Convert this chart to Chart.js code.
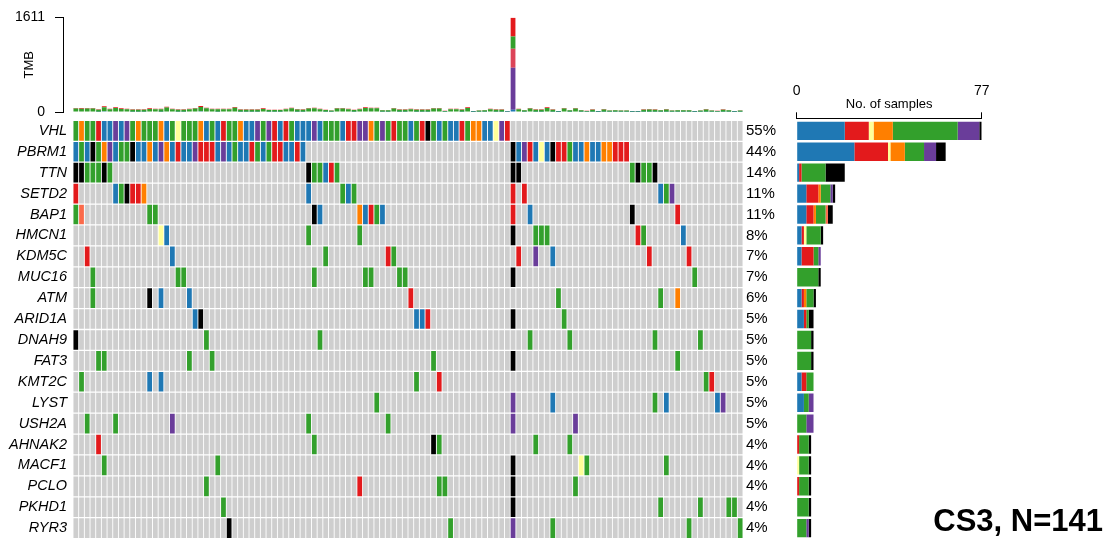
<!DOCTYPE html>
<html>
<head>
<meta charset="utf-8">
<script src="https://cdn.jsdelivr.net/npm/chart.js@4.4.1/dist/chart.umd.min.js"></script>
<style>
  html, body { margin: 0; padding: 0; background: #fff; }
  body { width: 1106px; height: 539px; position: relative; overflow: hidden; }
  canvas { position: absolute; }
  #tmb  { left: 0; top: -10px; }
  #grid { left: 0; top: 95px; }
  #side { left: 760px; top: 60px; }
  #cohort {
    position: absolute; right: 3px; top: 505px;
    font: bold 31px/1 "Liberation Sans", Arial, Helvetica, sans-serif;
    color: #000; white-space: nowrap;
  }
</style>
</head>
<body>
<canvas id="tmb" width="760" height="150"></canvas>
<canvas id="grid" width="790" height="470"></canvas>
<canvas id="side" width="260" height="482"></canvas>
<div id="cohort">CS3, N=141</div>

<script>
const FONT = '"Liberation Sans", Arial, Helvetica, sans-serif';
const totalSamples = 141;

const genes = ['VHL', 'PBRM1', 'TTN', 'SETD2', 'BAP1', 'HMCN1', 'KDM5C', 'MUC16', 'ATM', 'ARID1A',
               'DNAH9', 'FAT3', 'KMT2C', 'LYST', 'USH2A', 'AHNAK2', 'MACF1', 'PCLO', 'PKHD1', 'RYR3'];

// Variant classification codes used in the mutation strings below
const variantCodes  = ['B', 'R', 'Y', 'O', 'G', 'T', 'P', 'K'];
const variantNames  = ['Frame_Shift_Del', 'Nonsense_Mutation', 'In_Frame_Ins', 'Splice_Site',
                       'Missense_Mutation', 'In_Frame_Del', 'Frame_Shift_Ins', 'Multi_Hit'];
const variantColors = ['#1F78B4', '#E31A1C', '#FFFF99', '#FF7F00', '#33A02C', '#FB6A4A', '#6A3D9A', '#000000'];
const cellGrey = '#CECECE';

// One character per sample column ('.' = not mutated); spaces only group columns by ten
const mutVHL    = 'GOGGRBBPBP GOGGGOBGYG GGOBGBRGGO BBPGPRBRGB BBPBGGGBRR PPOGPGRGGB GRKGBGBBRG OOBBYPR... .......... .......... .......... ........';
const mutPBRM1  = 'BGBKGOPBGG KBBOBPOBRB BPRRRBPBGB BRGBGRRBBR B......... .......... .......... .......KBP RBYBKRRGBB OBBOORRR.. .......... ........';
const mutTTN    = 'KKGGGKG... .......... .......... .......... .KGGBRG... .......... .......... .......KK. .......... ........GK GGK....... ........';
const mutSETD2  = 'R......BGK RRO....... .......... .......... .B.....GBG .......... .......... .......R.R .......... .......... ...BGP.... ........';
const mutBAP1   = 'GT........ ...GG..... .......... .......... ..KB...... OBRGB..... .......... .......R.. B......... ........K. ......R... ........';
const mutHMCN1  = '.......... .....YB... .......... .......... .G........ G......... .......... .......K.. .GGG...... .........R G......B.. ........';
const mutKDM5C  = '..R....... .......B.. .......... .......... ....G..... .....RG... .......... ........R. .P..B..... .......... .R......R. ........';
const mutMUC16  = '...G...... ........GG .......... .......... ..G....... .GG....GG. .......... .......K.. .......... .......... .........G ........';
const mutATM    = '...G...... ...K.B.... B......... .......... .......... .........R .......... .......... .....G.... .......... ...G..O... ........';
const mutARID1A = '.......... .......... .BK....... .......... .......... .......... BBR....... .......K.. ......G... .......... .......... ........';
const mutDNAH9  = 'K......... .......... ...G...... .......... ...G...... .......... .......... .......... G......G.. .......... ..G....... G.......';
const mutFAT3   = '....GG.... .......... G...G..... .......... .......... .......... ...G...... .......K.. .......... .......... ......G... ........';
const mutKMT2C  = '.G........ ...B.B.... .......... .......... .......... .......... G...R..... .......... .......... .......... .......... .GR.....';
const mutLYST   = '.......... .......... .......... .......... .......... ...G...... .......... .......P.. ....B..... .......... ..G.B..... ...BP...';
const mutUSH2A  = '..G....G.. .......P.. .......... .......... .G........ .....G.... .......... .......P.. ........P. .......... .......... ........';
const mutAHNAK2 = '....R..... .......... .......... .......... ..G....... .......... ...KG..... .......... .G.....G.. .......... .......... ........';
const mutMACF1  = '.....G.... .......... .....G.... .......... .......... .......... .......... .......K.. .........Y G......... ....G..... ........';
const mutPCLO   = '.......... .......... ...G...... .......... .......... R......... ....GG.... .......K.. ........G. .......... .......... ........';
const mutPKHD1  = '.......... .......... ......G... .......... .......... .......... .......... .......K.. .......... .......... ...G...... G....GG.';
const mutRYR3   = '.......... .......... .......K.. .......... .......... .......... ......G... .......P.. ....G..... .......... ........G. .......G';

// Mutation burden per sample column (stacked by variant class)
const tmbFrameShiftDel = [
  8,7,8,8,5,11,7,9,7,7,   5,6,5,7,7,6,10,7,5,6,   7,8,12,9,7,6,7,7,10,5,   5,6,5,7,5,4,5,7,9,6,
  5,8,9,7,5,3,8,8,7,5,    7,9,9,9,4,4,8,5,6,7,    5,6,5,8,8,3,7,7,5,9,     2,3,4,7,5,6,1,40,7,4,
  8,5,6,9,5,2,8,4,8,4,    3,5,2,6,3,4,3,3,2,2,    5,6,5,4,6,3,4,4,4,2,     3,6,3,3,5,4,2,3];
const tmbMissense = [
  50,50,51,50,34,70,41,58,46,41,  34,33,33,46,41,42,66,41,34,32,  41,50,75,53,41,41,41,41,62,34,
  34,33,33,46,29,29,29,41,53,37,  34,50,53,41,29,21,50,50,41,29,  41,58,53,53,25,24,50,34,33,41,
  34,33,33,50,50,16,41,41,34,58,  12,21,25,41,34,33,8,205,41,25,  50,34,33,58,34,12,50,25,50,24,
  16,34,12,37,21,25,21,22,12,12,  34,37,34,25,37,21,25,24,25,12,  21,37,21,16,34,25,12,21];
const tmbNonsense = [
  11,12,10,11,7,16,9,13,10,9,   7,7,8,10,9,9,15,9,7,8,   9,11,16,12,9,10,9,9,14,7,   7,7,8,10,6,7,6,9,12,8,
  7,11,12,9,6,5,11,11,9,6,      9,13,12,12,5,6,11,7,7,9, 7,7,8,11,11,4,9,9,7,13,    3,5,5,9,7,7,2,318,9,5,
  11,7,7,13,7,3,11,5,11,6,      4,7,3,8,5,5,5,4,3,3,     7,8,7,5,8,5,5,6,5,3,       5,8,5,4,7,5,3,5];
// Classes present only in the hypermutated sample (column index -> count)
const tmbFrameShiftIns = { 77: 715 };
const tmbOtherIndel    = { 77: 325 };
const tmbSplice        = { 77: 8 };

// ---------------------------------------------------------------------------
const mutationRows = [mutVHL, mutPBRM1, mutTTN, mutSETD2, mutBAP1, mutHMCN1, mutKDM5C, mutMUC16,
  mutATM, mutARID1A, mutDNAH9, mutFAT3, mutKMT2C, mutLYST, mutUSH2A, mutAHNAK2, mutMACF1,
  mutPCLO, mutPKHD1, mutRYR3].map(s => s.replace(/ /g, '').split(''));
const nCols = mutationRows[0].length;
const colIdx = mutationRows[0].map((_, i) => i);

const mutatedCounts = mutationRows.map(row => row.filter(c => c !== '.').length);
const pctLabels = mutatedCounts.map(n => Math.round(n / totalSamples * 100) + '%');
const maxCount = Math.max(...mutatedCounts);
const colorOf = c => c === '.' ? cellGrey : variantColors[variantCodes.indexOf(c)];

const noAnim = { responsive: false, animation: false, devicePixelRatio: 1 };
const quiet = { legend: { display: false }, tooltip: { enabled: false } };

// ---------------- TMB panel ----------------
const sparse = m => colIdx.map(i => m[i] || 0);
const tmbSeries = [
  ['Frame_Shift_Del', tmbFrameShiftDel, '#1F78B4'],
  ['Frame_Shift_Ins', sparse(tmbFrameShiftIns), '#6A3D9A'],
  ['Other_Indel', sparse(tmbOtherIndel), '#DC4458'],
  ['Missense_Mutation', tmbMissense, '#33A02C'],
  ['Nonsense_Mutation', tmbNonsense, '#E31A1C'],
  ['Splice_Site', sparse(tmbSplice), '#FB9A99']
];
const tmbTotals = colIdx.map(i => tmbSeries.reduce((s, d) => s + d[1][i], 0));
const tmbMax = Math.max(...tmbTotals);
const colPx = 670 / nCols;

new Chart(document.getElementById('tmb'), {
  type: 'bar',
  data: {
    datasets: tmbSeries.map(([label, vals, color]) => ({
      label,
      data: vals.map((v, i) => ({ x: i + 0.5, y: v })),
      backgroundColor: color, borderWidth: 0,
      barPercentage: 0.84, categoryPercentage: 1
    }))
  },
  options: {
    ...noAnim,
    layout: { padding: { top: 27.5, bottom: 28, left: 0, right: 17 } },
    plugins: quiet,
    scales: {
      x: { type: 'linear', stacked: true, display: false, min: -10 / colPx, max: nCols,
           afterBuildTicks: s => { s.ticks = []; } },
      y: { type: 'linear', stacked: true, min: 0, max: tmbMax,
           afterBuildTicks: s => { s.ticks = [{ value: 0 }, { value: tmbMax }]; },
           afterFit: s => { s.width = 63; },
           grid: { drawOnChartArea: false, drawTicks: true, tickLength: 8, color: '#000', lineWidth: 1 },
           border: { display: true, color: '#000', width: 1 },
           ticks: { padding: 10, color: '#000', autoSkip: false, font: { family: FONT, size: 14 },
                    callback: v => String(v) },
           title: { display: true, text: 'TMB', color: '#000', font: { family: FONT, size: 13 },
                    padding: { top: 22, bottom: 0 } } }
    }
  }
});

// ---------------- Oncoprint grid ----------------
new Chart(document.getElementById('grid'), {
  type: 'bar',
  data: {
    datasets: mutationRows.map((row, r) => ({
      label: genes[r],
      data: row.map((c, i) => ({ x: i + 0.5, y: [r + 0.03, r + 0.97] })),
      backgroundColor: row.map(colorOf),
      borderWidth: 0, grouped: false,
      barPercentage: 0.84, categoryPercentage: 1
    }))
  },
  options: {
    ...noAnim,
    layout: { padding: { top: 25.4, bottom: 26.4, left: 0, right: 0 } },
    plugins: quiet,
    scales: {
      x: { type: 'linear', display: false, min: 0, max: nCols, afterBuildTicks: s => { s.ticks = []; } },
      y: { type: 'linear', position: 'left', min: 0, max: genes.length, reverse: true,
           afterBuildTicks: s => { s.ticks = genes.map((g, i) => ({ value: i + 0.5 })); },
           afterFit: s => { s.width = 73; },
           grid: { display: false, drawTicks: false }, border: { display: false },
           ticks: { padding: 6, color: '#000', autoSkip: false,
                    font: { family: FONT, size: 14.5, style: 'italic' },
                    callback: v => genes[Math.floor(v)] } },
      pct: { type: 'linear', position: 'right', min: 0, max: genes.length, reverse: true,
             afterBuildTicks: s => { s.ticks = genes.map((g, i) => ({ value: i + 0.5 })); },
             afterFit: s => { s.width = 47; },
             grid: { display: false, drawTicks: false }, border: { display: false },
             ticks: { padding: 3, color: '#000', autoSkip: false, font: { family: FONT, size: 15 },
                      callback: v => pctLabels[Math.floor(v)] } }
    }
  }
});

// ---------------- Per-gene sample counts ----------------
const axisCaption = {
  id: 'axisCaption',
  afterDraw(chart, args, opts) {
    const sx = chart.scales.x, ctx = chart.ctx;
    ctx.save();
    ctx.font = '13px ' + FONT;
    ctx.fillStyle = '#000';
    ctx.textAlign = 'center';
    ctx.textBaseline = 'alphabetic';
    ctx.fillText(opts.text, (sx.left + sx.right) / 2, sx.bottom - 10);
    ctx.restore();
  }
};

new Chart(document.getElementById('side'), {
  type: 'bar',
  plugins: [axisCaption],
  data: {
    datasets: variantCodes.map((code, k) => ({
      label: variantNames[k],
      data: mutationRows.map((row, r) => ({ x: row.filter(c => c === code).length, y: r + 0.5 })),
      backgroundColor: variantColors[k], borderWidth: 0,
      barPercentage: 0.88, categoryPercentage: 1
    }))
  },
  options: {
    ...noAnim,
    indexAxis: 'y',
    layout: { padding: { top: 0, bottom: 3.4, left: 36.7, right: 38.3 } },
    plugins: { ...quiet, axisCaption: { text: 'No. of samples' } },
    scales: {
      x: { type: 'linear', position: 'top', stacked: true, min: 0, max: maxCount,
           afterBuildTicks: s => { s.ticks = [{ value: 0 }, { value: maxCount }]; },
           afterFit: s => { s.height = 58.3; },
           grid: { drawOnChartArea: false, drawTicks: true, tickLength: 6, color: '#000', lineWidth: 1 },
           border: { display: true, color: '#000', width: 1 },
           ticks: { padding: 13, color: '#000', autoSkip: false, maxRotation: 0,
                    font: { family: FONT, size: 14 }, callback: v => String(v) } },
      y: { type: 'linear', stacked: true, display: false, min: -0.1, max: genes.length, reverse: true,
           afterBuildTicks: s => { s.ticks = []; } }
    }
  }
});
</script>
</body>
</html>
